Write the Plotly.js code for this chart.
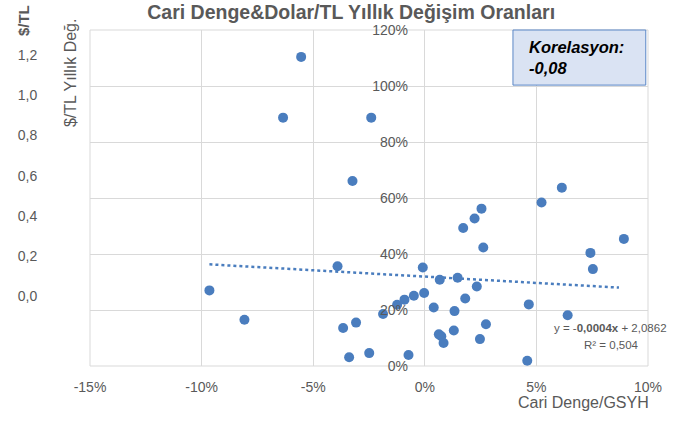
<!DOCTYPE html>
<html>
<head>
<meta charset="utf-8">
<script src="https://cdn.plot.ly/plotly-3.0.1.min.js"></script>
<style>html,body{margin:0;padding:0;background:#fff;}#chart{width:682px;height:422px;}</style>
</head>
<body>
<div id="chart"></div>
<script>
// Cari Denge/GSYH (x) and $/TL yıllık değişim (y)
var cariDenge = [-0.0554,-0.0635,-0.0240,-0.0324,-0.0965,-0.0808,-0.0391,-0.0366,-0.0308,-0.0339,
                 -0.0249,-0.0187,-0.0124,-0.0091,-0.0049,-0.0073,-0.0009,-0.0003,0.0040,0.0067,
                 0.0063,0.0074,0.0084,0.0133,0.0130,0.0147,0.0172,0.0181,0.0223,0.0254,
                 0.0262,0.0233,0.0247,0.0274,0.0614,0.0523,0.0892,0.0742,0.0753,0.0466,
                 0.0640,0.0459];
var dolarTL = [1.104,0.887,0.887,0.661,0.270,0.165,0.356,0.136,0.155,0.031,
               0.046,0.186,0.219,0.237,0.251,0.039,0.352,0.261,0.209,0.308,
               0.113,0.106,0.082,0.196,0.127,0.315,0.493,0.241,0.527,0.562,
               0.423,0.284,0.096,0.149,0.637,0.584,0.454,0.404,0.346,0.220,
               0.181,0.019];
// trendline endpoints as drawn
var trendX = [-0.0965, 0.0870];
var trendY = [0.363, 0.280];
// left secondary scale tick labels
var leftTickVals = [0.0,0.2,0.4,0.6,0.8,1.0,1.2];
var leftTickText = ['0,0','0,2','0,4','0,6','0,8','1,0','1,2'];
var xTickVals = [-0.15,-0.10,-0.05,0,0.05,0.10];
var xTickText = ['-15%','-10%','-5%','0%','5%','10%'];
var yTickVals = [0,0.2,0.4,0.6,0.8,1.0,1.2];
var yTickText = ['0%','20%','40%','60%','80%','100%','120%'];

var gray = '#595959';
var blue = '#4a7dbe';
var font = 'Liberation Sans, Arial, sans-serif';

var traces = [
  {x: cariDenge, y: dolarTL, type: 'scatter', mode: 'markers',
   marker: {color: blue, size: 10}, hoverinfo: 'skip', showlegend: false},
  {x: trendX, y: trendY, type: 'scatter', mode: 'lines',
   line: {color: blue, width: 2.5, dash: 'dot'}, hoverinfo: 'skip', showlegend: false},
  {x: [], y: [], yaxis: 'y2', type: 'scatter', mode: 'markers', hoverinfo: 'skip', showlegend: false}
];

var layout = {
  width: 682, height: 422,
  margin: {l: 90, r: 34, t: 30, b: 56},
  paper_bgcolor: '#fff', plot_bgcolor: '#fff',
  font: {family: font, color: gray, size: 14},
  showlegend: false,
  title: {text: '<b>Cari Denge&Dolar/TL Yıllık Değişim Oranları</b>',
          font: {family: font, size: 19.5, color: gray},
          xref: 'paper', x: 0.468, xanchor: 'center',
          yref: 'container', y: 0.9716, yanchor: 'middle'},
  xaxis: {range: [-0.15, 0.10], tickvals: xTickVals, ticktext: xTickText,
          showgrid: true, gridcolor: '#d9d9d9', gridwidth: 1, zeroline: false,
          showline: false, ticks: 'outside', ticklen: 8, tickcolor: 'rgba(0,0,0,0)',
          tickfont: {size: 14, color: gray}, fixedrange: true},
  yaxis: {range: [0, 1.2], tickvals: yTickVals, ticktext: yTickText,
          anchor: 'free', position: 0.6,
          showgrid: true, gridcolor: '#d9d9d9', gridwidth: 1, zeroline: false,
          showline: false, ticks: 'outside', ticklen: 14, tickcolor: 'rgba(0,0,0,0)',
          tickfont: {size: 14, color: gray}, fixedrange: true},
  yaxis2: {range: [-0.346, 1.324], tickvals: leftTickVals, ticktext: leftTickText,
           overlaying: 'y', side: 'left', anchor: 'free', position: 0,
           showgrid: false, zeroline: false, showline: false,
           ticks: 'outside', ticklen: 50, tickcolor: 'rgba(0,0,0,0)',
           tickfont: {size: 14, color: gray}, fixedrange: true},
  shapes: [
    {type: 'rect', xref: 'paper', yref: 'paper', x0: 0, x1: 1, y0: 0, y1: 1,
     line: {color: '#d9d9d9', width: 1}, layer: 'below'},
    {type: 'rect', xref: 'paper', yref: 'paper', x0: 0.758, x1: 0.996, y0: 0.836, y1: 1.0,
     fillcolor: '#dae3f3', line: {color: '#5a87c6', width: 1}}
  ],
  annotations: [
    {xref: 'paper', yref: 'paper', x: 0.783, y: 0.918, xanchor: 'left', yanchor: 'middle',
     align: 'left', showarrow: false,
     text: '<b><i>Korelasyon:</i></b><br><b><i>-0,08</i></b>',
     font: {family: font, size: 16.5, color: '#000'}},
    {xref: 'paper', yref: 'paper', x: 0.932, y: 0.113, xanchor: 'center', yanchor: 'middle',
     showarrow: false, text: 'y = -<b>0,0004x</b> + 2,0862',
     font: {family: font, size: 11.5, color: gray}},
    {xref: 'paper', yref: 'paper', x: 0.934, y: 0.0625, xanchor: 'center', yanchor: 'middle',
     showarrow: false, text: 'R² = 0,504',
     font: {family: font, size: 11.5, color: gray}},
    {xref: 'paper', yref: 'paper', x: 1.0054, y: -0.110, xanchor: 'right', yanchor: 'middle',
     showarrow: false, text: 'Cari Denge/GSYH',
     font: {family: font, size: 16, color: gray}},
    {xref: 'paper', yref: 'paper', x: -0.0358, y: 0.872, xanchor: 'center', yanchor: 'middle',
     showarrow: false, textangle: -90, text: '$/TL Yıllık Değ.',
     font: {family: font, size: 16, color: gray}},
    {xref: 'paper', yref: 'paper', x: -0.118, y: 1.027, xanchor: 'center', yanchor: 'middle',
     showarrow: false, textangle: -90, text: '<b>$/TL</b>',
     font: {family: font, size: 15, color: gray}}
  ]
};

Plotly.newPlot('chart', traces, layout, {staticPlot: true, displayModeBar: false});
</script>
</body>
</html>
